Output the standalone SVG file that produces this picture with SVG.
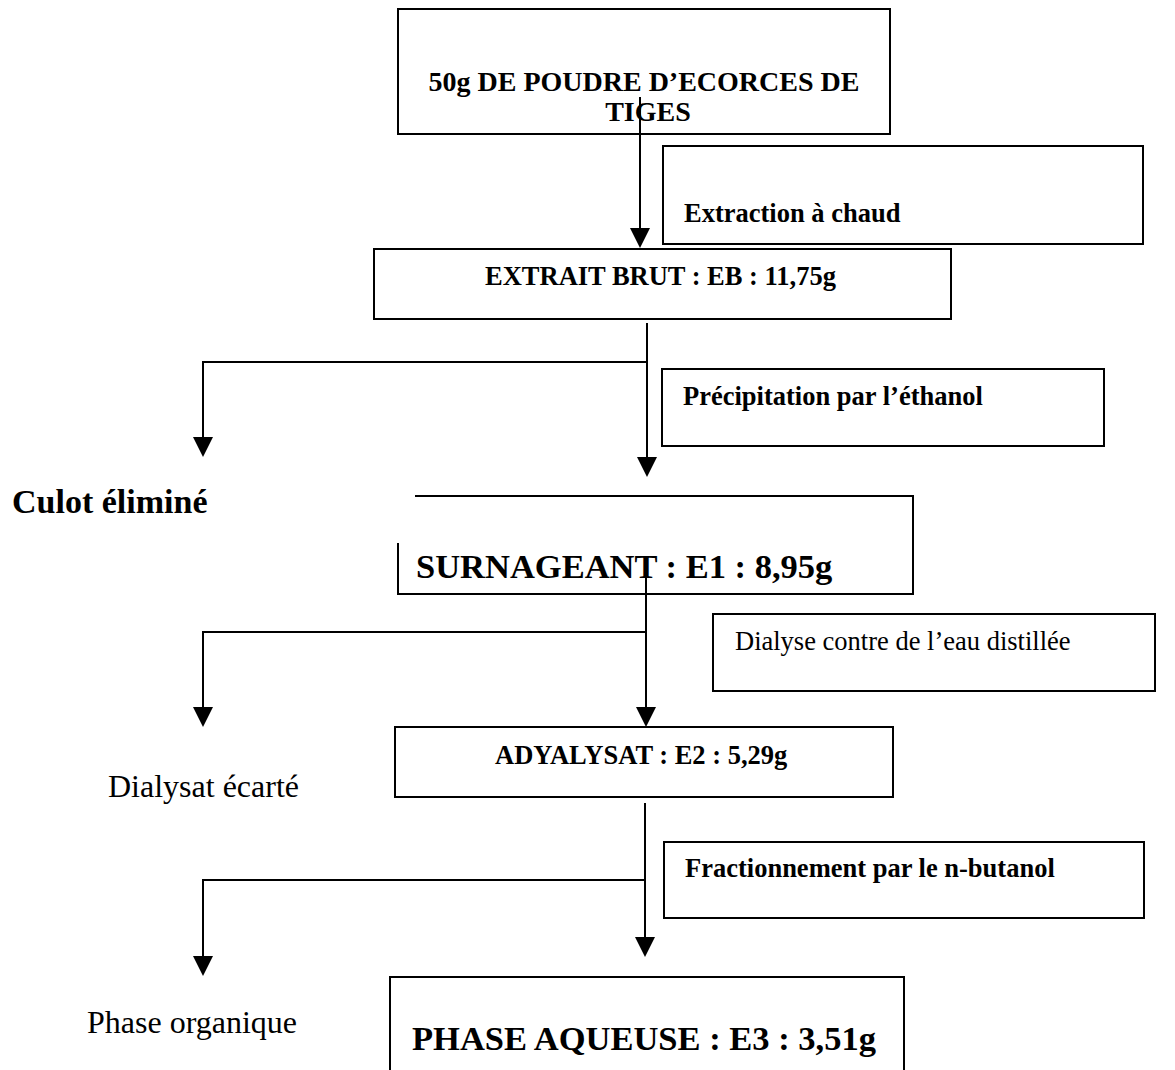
<svg xmlns="http://www.w3.org/2000/svg" width="1175" height="1070" viewBox="0 0 1175 1070">
<style>
.box{fill:#fff;stroke:#000;stroke-width:2}
.ln{fill:none;stroke:#000;stroke-width:2}
.hd{fill:#000}
.b{font-family:"Liberation Serif","Times New Roman",serif;font-weight:bold;fill:#000}
.r{font-family:"Liberation Serif","Times New Roman",serif;fill:#000}
</style>
<rect width="1175" height="1070" fill="#fff"/>
<g id="n-poudre">
<rect class="box" x="398" y="9" width="492" height="125"/>
<text class="b" font-size="28" x="644" y="91" text-anchor="middle">50g DE POUDRE D’ECORCES DE</text>
<text class="b" font-size="28" x="648" y="121" text-anchor="middle">TIGES</text>
</g>
<g id="n-extraction">
<rect class="box" x="663" y="146" width="480" height="98"/>
<text class="b" font-size="26.5" x="684" y="222">Extraction à chaud</text>
</g>
<g id="n-extrait">
<rect class="box" x="374" y="249" width="577" height="70"/>
<text class="b" font-size="26.5" x="485" y="285">EXTRAIT BRUT : EB : 11,75g</text>
</g>
<g id="n-precip">
<rect class="box" x="662" y="369" width="442" height="77"/>
<text class="b" font-size="26.5" x="683" y="405">Précipitation par l’éthanol</text>
</g>
<g id="n-culot">
<text class="b" font-size="34" x="12" y="513">Culot éliminé</text>
</g>
<g id="n-surnageant">
<path class="ln" d="M415,496 H913 V594 H398 V543"/>
<text class="b" font-size="34.5" x="416" y="578">SURNAGEANT : E1 : 8,95g</text>
</g>
<g id="n-dialyse">
<rect class="box" x="713" y="614" width="442" height="77"/>
<text class="r" font-size="26.5" x="735" y="650">Dialyse contre de l’eau distillée</text>
</g>
<g id="n-dialysat">
<text class="r" font-size="32" x="108" y="797">Dialysat écarté</text>
</g>
<g id="n-adyalysat">
<rect class="box" x="395" y="727" width="498" height="70"/>
<text class="b" font-size="26.5" x="495" y="764">ADYALYSAT : E2 : 5,29g</text>
</g>
<g id="n-fraction">
<rect class="box" x="664" y="842" width="480" height="76"/>
<text class="b" font-size="26.5" x="685" y="877">Fractionnement par le n-butanol</text>
</g>
<g id="n-organique">
<text class="r" font-size="32" x="87" y="1033">Phase organique</text>
</g>
<g id="n-aqueuse">
<rect class="box" x="390" y="977" width="514" height="100"/>
<text class="b" font-size="34.5" x="412" y="1050">PHASE AQUEUSE : E3 : 3,51g</text>
</g>
<g id="connectors">
<path class="ln" d="M640,97 V229"/>
<polygon class="hd" points="630,228 650,228 640,248"/>
<path class="ln" d="M647,323 V458"/>
<polygon class="hd" points="637,457 657,457 647,477"/>
<path class="ln" d="M647,362 H203 V438"/>
<polygon class="hd" points="193,437 213,437 203,457"/>
<path class="ln" d="M646,575 V708"/>
<polygon class="hd" points="636,707 656,707 646,727"/>
<path class="ln" d="M646,632 H203 V708"/>
<polygon class="hd" points="193,707 213,707 203,727"/>
<path class="ln" d="M645,803 V938"/>
<polygon class="hd" points="635,937 655,937 645,957"/>
<path class="ln" d="M645,880 H203 V957"/>
<polygon class="hd" points="193,956 213,956 203,976"/>
</g>
</svg>
